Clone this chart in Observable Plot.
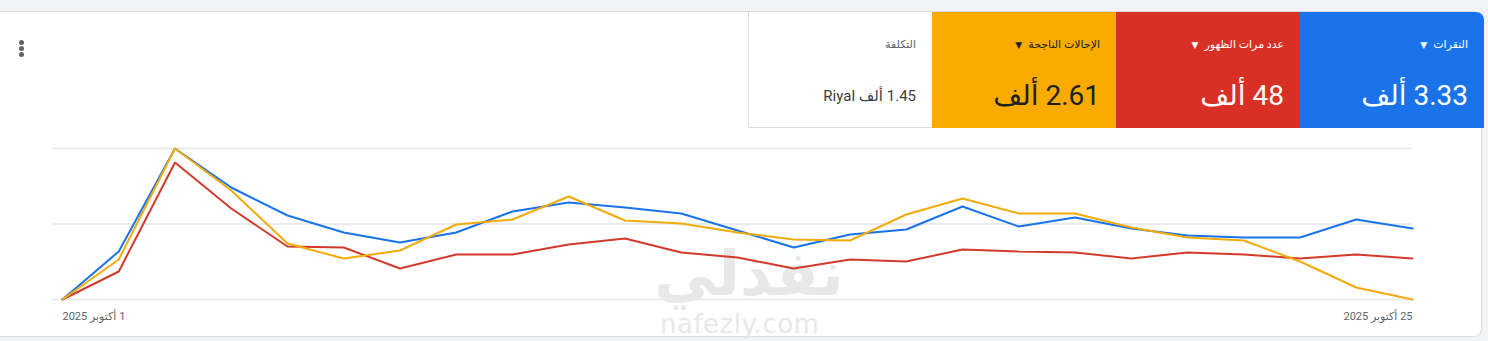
<!DOCTYPE html>
<html>
<head>
<meta charset="utf-8">
<script src="https://cdn.jsdelivr.net/npm/d3@7"></script>
<script src="https://cdn.jsdelivr.net/npm/@observablehq/plot@0.6"></script>
<style>
  html, body { margin: 0; padding: 0; }
  body { width: 1488px; height: 341px; background: #f1f3f4; position: relative; overflow: hidden; font-family: Roboto, "DejaVu Sans", sans-serif; }
  #card { position: absolute; left: -2px; top: 11px; width: 1484px; height: 326px; background: #fff; border: 1px solid #dadce0; border-radius: 0 8px 8px 0; box-sizing: border-box; }
  .tile { position: absolute; top: 12px; width: 184px; height: 116px; box-sizing: border-box; direction: rtl; text-align: right; padding-right: 16px; }
  .hdr { position: absolute; right: 16px; top: 26px; font-size: 11px; white-space: nowrap; }
  .hdr .arr { font-size: 9px; margin-right: 6px; }
  .val { position: absolute; right: 16px; top: 64px; font-size: 28px; line-height: 40px; white-space: nowrap; }
  .val.small { font-size: 15px; top: 64px; line-height: 40px; }
  #dots { position: absolute; left: 19px; top: 40px; width: 6px; }
  #dots span { display: block; width: 5px; height: 5px; border-radius: 50%; background: #5f6368; margin-bottom: 1px; }
  #chart { position: absolute; left: 0; top: 130px; }
  .wm1 { position: absolute; left: 654px; top: 244px; font-size: 62px; font-weight: bold; color: #e8e8e8; font-family: "DejaVu Sans", sans-serif; direction: rtl; line-height: 60px; height: 60px; }
  .wm2 { position: absolute; left: 660px; top: 311px; font-size: 26px; color: #e8e8e8; font-family: "DejaVu Sans", sans-serif; line-height: 26px; letter-spacing: 0.5px; }
</style>
</head>
<body>
<div id="card"></div>
<div id="dots"><span></span><span></span><span></span></div>
<div class="wm1">نفذلي</div>
<div class="wm2">nafezly.com</div>
<div id="tiles"></div>
<div id="chart"></div>
<script>
// ---- data ----
const dayLabels = ["1 أكتوبر 2025", "25 أكتوبر 2025"];
const days = d3.range(1, 26); // 1..25 October 2025
const clicks      = [0, 48, 151, 112, 84, 67, 57, 67, 88, 97, 92, 86, 69, 52, 65, 70, 93, 73, 82, 71, 64, 62, 62, 80, 71];
const impressions = [0, 28, 137, 91, 53, 52, 31, 45, 45, 55, 61, 47, 42, 31, 40, 38, 50, 48, 47, 41, 47, 45, 41, 45, 41];
const conversions = [0, 40, 151, 109, 56, 41, 49, 75, 80, 103, 79, 76, 67, 60, 59, 85, 101, 86, 86, 72, 62, 59, 38, 12, 0];
const gridValues = [0, 75.5, 151];

const tileNames  = ["النقرات", "عدد مرات الظهور", "الإحالات الناجحة", "التكلفة"];
const tileValues = ["3.33 ألف", "48 ألف", "2.61 ألف", "1.45 ألف Riyal"];
const tileColors = ["#1a73e8", "#d93025", "#f9ab00", "#ffffff"];
const tileText   = ["#ffffff", "#ffffff", "#202124", "#3c4043"];
const lineColors = {clicks: "#1a73e8", impressions: "#d23a2b", conversions: "#f1ab0a"};

// ---- tiles ----
const tilesEl = document.getElementById("tiles");
tileNames.forEach((name, i) => {
  const t = document.createElement("div");
  t.className = "tile";
  t.style.left = (1300 - 184 * i) + "px";
  t.style.background = tileColors[i];
  t.style.color = tileText[i];
  if (i === 0) t.style.borderTopRightRadius = "8px";
  if (i === 3) { t.style.borderLeft = "1px solid #dadce0"; t.style.borderBottom = "1px solid #dadce0"; }
  const h = document.createElement("div");
  h.className = "hdr";
  h.innerHTML = name + (i < 3 ? '<span class="arr">▼</span>' : "");
  if (i === 3) h.style.color = "#5f6368";
  const v = document.createElement("div");
  v.className = "val" + (i === 3 ? " small" : "");
  v.textContent = tileValues[i];
  t.appendChild(h); t.appendChild(v);
  tilesEl.appendChild(t);
});

// ---- chart ----
const date = d => new Date(2025, 9, d);
const rows = [];
days.forEach((d, i) => {
  rows.push({date: date(d), v: clicks[i], s: "clicks"});
  rows.push({date: date(d), v: impressions[i], s: "impressions"});
  rows.push({date: date(d), v: conversions[i], s: "conversions"});
});
const order = ["impressions", "clicks", "conversions"];

const plot = Plot.plot({
  width: 1488,
  height: 205,
  marginLeft: 52,
  marginRight: 76,
  marginTop: 18,
  marginBottom: 36,
  style: {background: "transparent", fontFamily: "Roboto, 'DejaVu Sans', sans-serif"},
  x: {type: "time", domain: [date(1), date(25)], insetLeft: 10, axis: null},
  y: {domain: [0, 151], axis: null},
  marks: [
    Plot.ruleY(gridValues, {stroke: "#e8eaed", strokeWidth: 2}),
    ...order.map(s => Plot.line(rows.filter(r => r.s === s), {
      x: "date", y: "v", stroke: lineColors[s], strokeWidth: 2, strokeLinejoin: "miter"
    })),
    Plot.text([date(1)], {x: d => d, y: 0, text: () => "\u202B" + dayLabels[0] + "\u202C",
      textAnchor: "start", dy: 17, fontSize: 11, fill: "#5f6368"}),
    Plot.text([date(25)], {x: d => d, y: 0, text: () => "\u202B" + dayLabels[1] + "\u202C",
      textAnchor: "end", dy: 17, fontSize: 11, fill: "#5f6368"})
  ]
});
document.getElementById("chart").appendChild(plot);
</script>
</body>
</html>
